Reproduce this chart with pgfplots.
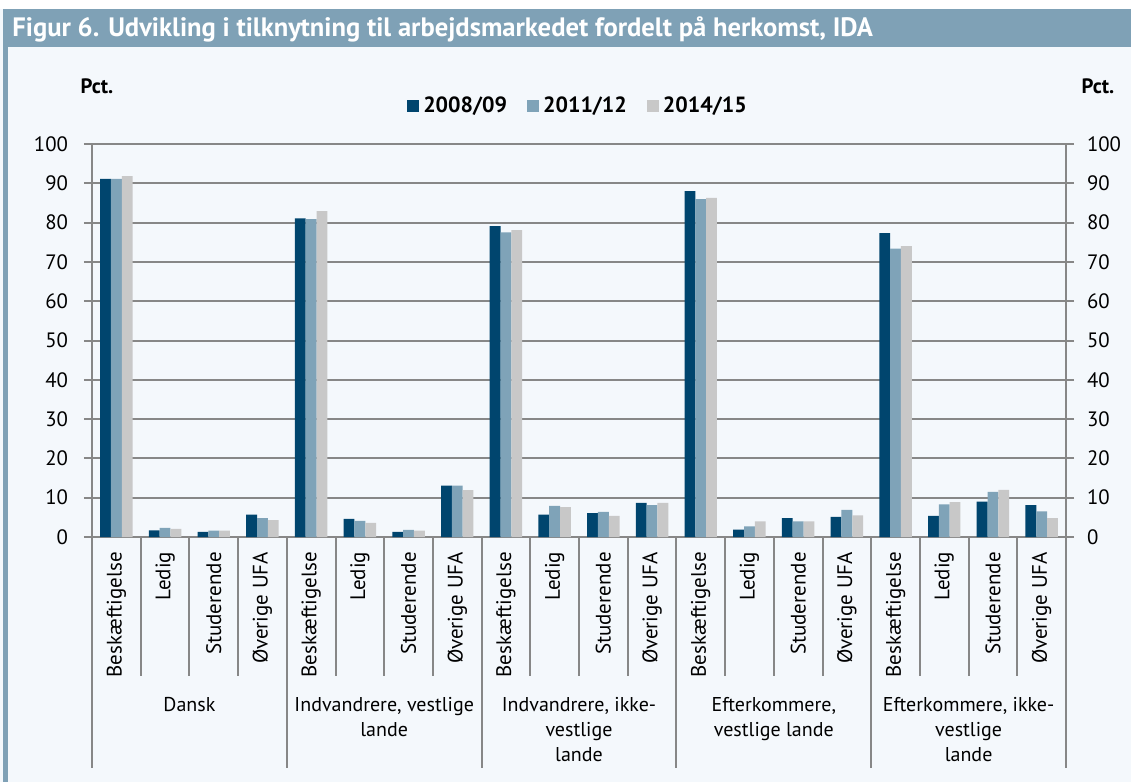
\documentclass[border=0pt]{standalone}
\usepackage{pgfplots}
\usepackage{pgfplotstable}
\pgfplotsset{compat=1.18}
\usepackage{fontspec}
\setmainfont{PT Sans}
\definecolor{cdark}{HTML}{00456E}
\definecolor{cmid}{HTML}{7FA3B8}
\definecolor{clight}{HTML}{C8C8C8}
\definecolor{cbanner}{HTML}{7FA1B6}
\definecolor{cbg}{HTML}{F4F8FC}
\definecolor{cgrid}{HTML}{878787}
\pgfplotstableread{
x a b c
0 91.1 91.1 91.8
1 1.7 2.3 2.1
2 1.3 1.6 1.6
3 5.7 4.8 4.3
4 81.1 80.9 82.9
5 4.6 4.1 3.6
6 1.3 1.8 1.6
7 13.1 13.1 11.9
8 79.1 77.5 78.1
9 5.7 7.9 7.6
10 6.1 6.4 5.4
11 8.7 8.1 8.7
12 88.0 86.0 86.3
13 1.9 2.7 4.0
14 4.8 4.0 4.0
15 5.1 6.9 5.5
16 77.3 73.4 74.0
17 5.4 8.3 8.9
18 9.0 11.5 12.0
19 8.1 6.5 4.8
}\datatable
\tikzset{grplabel/.style={anchor=north, align=center, inner sep=0pt, font=\fontsize{10}{12.5}\selectfont, yshift=-80pt}}
\begin{document}
\begin{tikzpicture}
\useasboundingbox (0,0) rectangle (565.5pt,-391pt);
\fill[white] (0,0) rectangle (565.5pt,-391pt);
\fill[cbg] (0,-4.5pt) rectangle (565.5pt,-391pt);
\fill[cbanner] (1.5pt,-4.5pt) rectangle (565.5pt,-23.5pt);
\fill[cbanner] (1.5pt,-23.5pt) rectangle (4pt,-391pt);
\node[anchor=west, text=white, font=\bfseries\fontsize{13.3}{15}\selectfont, inner sep=0pt] at (6pt,-14.5pt) {Figur 6. Udvikling i tilknytning til arbejdsmarkedet fordelt på herkomst, IDA};
\node[font=\bfseries\fontsize{10.4}{12}\selectfont] at (48.5pt,-43pt) {Pct.};
\node[font=\bfseries\fontsize{10.4}{12}\selectfont] at (549pt,-43pt) {Pct.};
\begin{axis}[
  at={(46pt,-268.5pt)}, anchor=south west,
  scale only axis, width=487pt, height=196.5pt,
  xmin=-0.5, xmax=19.5, ymin=0, ymax=100,
  ytick={0,10,...,100},
  ymajorgrids, grid style={cgrid, line width=1pt},
  axis line style={cgrid, line width=1pt},
  tick align=outside, major tick length=4pt,
  ytick pos=left, ytick style={cgrid, line width=1pt},
  xtick=data, xtick pos=bottom, xtick style={draw=none},
  xticklabels={Beskæftigelse,Ledig,Studerende,Øverige UFA,Beskæftigelse,Ledig,Studerende,Øverige UFA,Beskæftigelse,Ledig,Studerende,Øverige UFA,Beskæftigelse,Ledig,Studerende,Øverige UFA,Beskæftigelse,Ledig,Studerende,Øverige UFA},
  xticklabel style={rotate=90, anchor=east, font=\fontsize{10.5}{12}\selectfont},
  yticklabel style={font=\fontsize{10.4}{12}\selectfont, xshift=-4.5pt},
  /pgf/number format/assume math mode=true,
  clip=false,
  legend style={at={(0.5,1)}, anchor=center, yshift=19pt, legend columns=3, draw=none, fill=none, font=\bfseries\fontsize{11}{13}\selectfont, /tikz/every even column/.append style={column sep=8pt}},
  legend image code/.code={\fill[#1] (0pt,-3pt) rectangle (6pt,3pt);},
]
\addplot[ybar, fill=cdark, draw=none, bar width=0.222, bar shift=-0.222] table[x=x,y=a] {\datatable};
\addplot[ybar, fill=cmid, draw=none, bar width=0.222, bar shift=0] table[x=x,y=b] {\datatable};
\addplot[ybar, fill=clight, draw=none, bar width=0.222, bar shift=0.222] table[x=x,y=c] {\datatable};
\legend{2008/09,2011/12,2014/15}
\pgfplotsinvokeforeach{0.5,1.5,2.5,4.5,5.5,6.5,8.5,9.5,10.5,12.5,13.5,14.5,16.5,17.5,18.5}{
  \draw[cgrid, line width=1pt] (axis cs:#1,0) -- ++(0pt,-69.5pt);
}
\pgfplotsinvokeforeach{-0.5,3.5,7.5,11.5,15.5,19.5}{
  \draw[cgrid, line width=1pt] (axis cs:#1,0) -- ++(0pt,-115.5pt);
}
\node[grplabel] at (axis cs:1.5,0) {Dansk};
\node[grplabel] at (axis cs:5.5,0) {Indvandrere, vestlige\\lande};
\node[grplabel] at (axis cs:9.5,0) {Indvandrere, ikke-\\vestlige\\lande};
\node[grplabel] at (axis cs:13.5,0) {Efterkommere,\\vestlige lande};
\node[grplabel] at (axis cs:17.5,0) {Efterkommere, ikke-\\vestlige\\lande};
\end{axis}
\begin{axis}[
  at={(46pt,-268.5pt)}, anchor=south west,
  scale only axis, width=487pt, height=196.5pt,
  xmin=-0.5, xmax=19.5, ymin=0, ymax=100,
  ytick={0,10,...,100},
  axis x line=none, axis y line*=right,
  axis line style={cgrid, line width=1pt, -},
  tick align=outside, major tick length=4pt,
  ytick style={cgrid, line width=1pt},
  yticklabel style={font=\fontsize{10.4}{12}\selectfont, xshift=3pt},
  /pgf/number format/assume math mode=true,
]
\addplot[draw=none] coordinates {(0,0)};
\end{axis}
\end{tikzpicture}
\end{document}
